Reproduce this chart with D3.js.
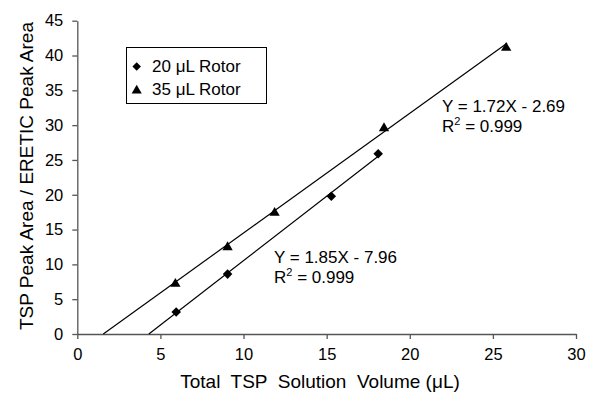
<!DOCTYPE html>
<html>
<head>
<meta charset="utf-8">
<script src="https://cdn.jsdelivr.net/npm/d3@7"></script>
<style>
  html, body { margin: 0; padding: 0; background: #fff; }
  svg { display: block; font-family: "Liberation Sans", Arial, sans-serif; }
  text { white-space: pre; }
</style>
</head>
<body>
<svg id="chart" width="601" height="403"></svg>
<script>
// ---- data ----
const xTicks = [0, 5, 10, 15, 20, 25, 30];
const yTicks = [0, 5, 10, 15, 20, 25, 30, 35, 40, 45];
const seriesNames = ["20 \u03bcL Rotor", "35 \u03bcL Rotor"];
const rotor20X = [5.95, 9.04, 15.28, 18.1];
const rotor20Y = [3.16, 8.6, 19.8, 25.9];
const rotor35X = [5.9, 9.04, 11.87, 18.45, 25.8];
const rotor35Y = [7.2, 12.45, 17.4, 29.55, 41.1];
const fitSlopes = [1.85, 1.72];
const fitIntercepts = [-7.96, -2.69];
const fitEndX = [18.3, 25.85];
const fitLabels = ["Y = 1.85X - 7.96", "Y = 1.72X - 2.69"];
const r2Labels = ["0.999", "0.999"];
const xTitle = "Total  TSP  Solution  Volume (\u03bcL)";
const yTitle = "TSP Peak Area / ERETIC Peak Area";

// ---- layout ----
const svg = d3.select("#chart");
const x = d3.scaleLinear().domain([0, 30]).range([77.3, 576]);
const y = d3.scaleLinear().domain([0, 45]).range([334, 20.7]);
const axisColor = "#555";

// axes
const xAxis = svg.append("g")
  .attr("transform", `translate(0,${y(0)})`)
  .call(d3.axisBottom(x).tickValues(xTicks).tickFormat(d3.format("d"))
    .tickSize(5).tickSizeOuter(0).tickPadding(9));
const yAxis = svg.append("g")
  .attr("transform", `translate(${x(0)},0)`)
  .call(d3.axisLeft(y).tickValues(yTicks).tickFormat(d3.format("d"))
    .tickSize(5).tickSizeOuter(0).tickPadding(9));
[xAxis, yAxis].forEach(g => {
  g.attr("font-family", null).attr("font-size", null);
  g.select(".domain").attr("stroke", axisColor).attr("stroke-width", 1.3);
  g.selectAll(".tick line").attr("stroke", axisColor).attr("stroke-width", 1.3);
  g.selectAll(".tick text").attr("fill", "#000").style("font-size", "16.5px");
});

// axis titles
svg.append("text")
  .attr("x", 320).attr("y", 388)
  .attr("text-anchor", "middle")
  .style("font-size", "19px")
  .text(xTitle);
svg.append("text")
  .attr("transform", `translate(33,176) rotate(-90)`)
  .attr("text-anchor", "middle")
  .style("font-size", "19px")
  .text(yTitle);

// regression lines
const seriesX = [rotor20X, rotor35X];
const seriesY = [rotor20Y, rotor35Y];
fitSlopes.forEach((m, i) => {
  const b = fitIntercepts[i];
  const x0 = -b / m;
  const x1 = fitEndX[i];
  svg.append("line")
    .attr("x1", x(x0)).attr("y1", y(0))
    .attr("x2", x(x1)).attr("y2", y(m * x1 + b))
    .attr("stroke", "#000").attr("stroke-width", 1.2);
});

// markers
const symbols = [
  d3.symbol().type(d3.symbolDiamond2).size(58),
  d3.symbol().type(d3.symbolTriangle).size(46)
];
seriesX.forEach((xs, i) => {
  svg.append("g").selectAll("path")
    .data(xs.map((v, j) => [v, seriesY[i][j]]))
    .join("path")
    .attr("d", symbols[i])
    .attr("transform", d => `translate(${x(d[0])},${y(d[1])})`)
    .attr("fill", "#000");
});

// equations
const eqPos = [[274, 263], [442, 112]];
fitLabels.forEach((lab, i) => {
  const [ex, ey] = eqPos[i];
  svg.append("text").attr("x", ex).attr("y", ey)
    .style("font-size", "17px").text(lab);
  const r = svg.append("text").attr("x", ex).attr("y", ey + 19.5)
    .style("font-size", "17px");
  r.append("tspan").text("R");
  r.append("tspan").attr("dy", -7).style("font-size", "11px").text("2");
  r.append("tspan").attr("dy", 7).text(" = " + r2Labels[i]);
});

// legend
const lg = svg.append("g");
lg.append("rect")
  .attr("x", 126.5).attr("y", 47.5).attr("width", 140).attr("height", 56)
  .attr("fill", "#fff").attr("stroke", "#000").attr("stroke-width", 1);
seriesNames.forEach((name, i) => {
  const ly = 66.5 + i * 23;
  lg.append("path")
    .attr("d", i === 0 ? d3.symbol().type(d3.symbolDiamond2).size(46)
                       : d3.symbol().type(d3.symbolTriangle).size(44))
    .attr("transform", `translate(136.7,${ly + (i === 1 ? 1 : 0)})`)
    .attr("fill", "#000");
  lg.append("text")
    .attr("x", 152).attr("y", ly + 5)
    .style("font-size", "17px")
    .text(name);
});
</script>
</body>
</html>
